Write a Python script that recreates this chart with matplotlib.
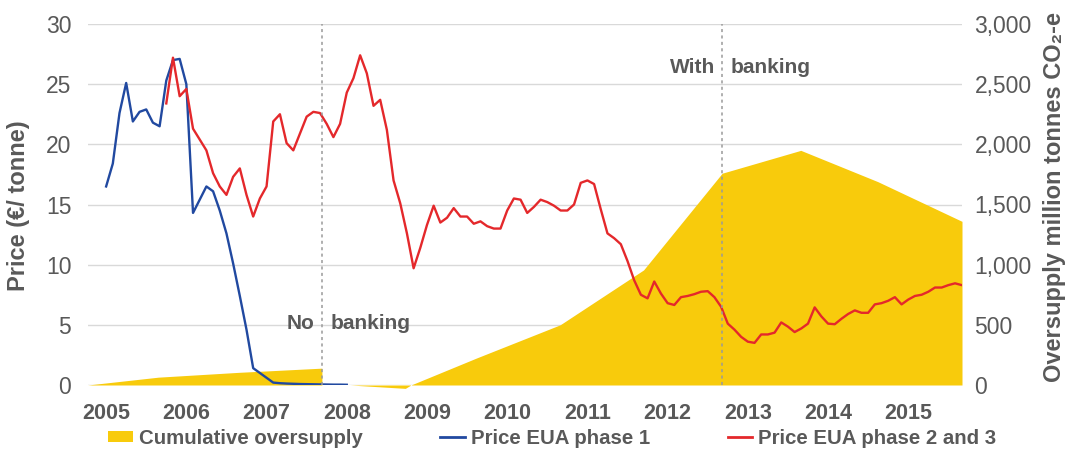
import matplotlib
matplotlib.use("Agg")
import matplotlib.pyplot as plt
from matplotlib.patches import Patch
from matplotlib.lines import Line2D
from matplotlib.ticker import FuncFormatter

plt.rcParams['font.family'] = ['Liberation Sans', 'DejaVu Sans']

# Monthly EUA prices, EUR per tonne
phase1_first_month = (2005, 1)
phase1_price = [16.5, 18.4, 22.6, 25.1, 21.9, 22.7, 22.9, 21.8, 21.5, 25.3, 27.0, 27.1,
                25.0, 14.3, 15.4, 16.5, 16.1, 14.5, 12.6, 10.1, 7.4, 4.6, 1.4, 1.0,
                0.6, 0.2, 0.15, 0.12, 0.1, 0.08, 0.07, 0.06, 0.05, 0.04, 0.03, 0.03, 0.02]

phase23_first_month = (2005, 10)
phase23_price = [23.4, 27.2, 24.0, 24.6, 21.3, 20.4, 19.5, 17.6, 16.5, 15.8, 17.3, 18.0,
                 15.8, 14.0, 15.5, 16.5, 21.9, 22.5, 20.1, 19.5, 20.9, 22.3, 22.7, 22.6,
                 21.7, 20.6, 21.7, 24.3, 25.5, 27.4, 25.9, 23.2, 23.7, 21.2, 17.0, 15.1,
                 12.6, 9.7, 11.4, 13.3, 14.9, 13.5, 13.9, 14.7, 14.0, 14.0, 13.4, 13.6,
                 13.2, 13.0, 13.0, 14.5, 15.5, 15.4, 14.3, 14.8, 15.4, 15.2, 14.9, 14.5,
                 14.5, 15.0, 16.8, 17.0, 16.7, 14.6, 12.6, 12.2, 11.7, 10.3, 8.7, 7.5,
                 7.2, 8.6, 7.6, 6.8, 6.65, 7.3, 7.4, 7.55, 7.75, 7.8, 7.3, 6.5,
                 5.1, 4.6, 4.0, 3.6, 3.5, 4.2, 4.2, 4.35, 5.2, 4.85, 4.4, 4.7,
                 5.1, 6.45, 5.7, 5.1, 5.05, 5.5, 5.9, 6.2, 6.0, 6.0, 6.7, 6.8,
                 7.0, 7.3, 6.7, 7.1, 7.4, 7.5, 7.75, 8.1, 8.1, 8.3, 8.45, 8.3]

# Cumulative oversupply, million tonnes CO2-e
oversupply_time = [2004.77, 2005.65, 2006.65, 2007.69, 2007.69, 2008.04, 2008.73, 2008.80,
                   2009.62, 2010.66, 2011.70, 2012.68, 2013.66, 2014.62, 2015.67]
oversupply_mt = [0, 65, 105, 140, 0, 0, -28, 0,
                 225, 500, 956, 1760, 1950, 1690, 1360]

year_ticks = list(range(2005, 2016))
banking_breaks = [2007.69, 2012.68]

YELLOW = '#F8CB0C'
BLUE = '#2149A0'
RED = '#E4282B'
GREY_TXT = '#595959'
GRID = '#D9D9D9'


def monthly_axis(first, n):
    y, m = first
    return [y + (m - 1 + k) / 12.0 for k in range(n)]


t1 = monthly_axis(phase1_first_month, len(phase1_price))
t23 = monthly_axis(phase23_first_month, len(phase23_price))

fig = plt.figure(figsize=(10.71, 4.54), dpi=100)
ax = fig.add_axes([88 / 1071, 1 - 385 / 454, 874 / 1071, 361 / 454])
ax2 = ax.twinx()
ax.set_zorder(ax2.get_zorder() + 1)
ax.patch.set_visible(False)

# oversupply area on the right-hand scale, beneath the price lines
ax2.fill_between(oversupply_time, oversupply_mt, 0, color=YELLOW, lw=0, zorder=2,
                 clip_on=False)
ax2.set_ylim(0, 3000)
ax2.set_yticks(range(0, 3001, 500))
ax2.yaxis.set_major_formatter(FuncFormatter(lambda v, p: f'{v:,.0f}'))
ax2.yaxis.grid(True, color=GRID, lw=1)
ax2.set_axisbelow(True)

ax.plot(t1, phase1_price, color=BLUE, lw=1.7, solid_joinstyle='round')
ax.plot(t23, phase23_price, color=RED, lw=1.7, solid_joinstyle='round')
for xb in banking_breaks:
    ax.axvline(xb, color='#9A9A9A', lw=1.1, ls=(0, (2, 2.2)), zorder=5)

ax.set_xlim(2004.774, 2015.67)
ax.set_ylim(0, 30)
ax.set_yticks(range(0, 31, 5))
ax.set_xticks(year_ticks)
ax.set_xticklabels([str(y) for y in year_ticks], fontweight='bold', fontsize=15.5, color=GREY_TXT)

for a in (ax, ax2):
    for s in a.spines.values():
        s.set_visible(False)
ax.tick_params(axis='y', length=0, labelsize=16.5, labelcolor=GREY_TXT, pad=12)
ax2.tick_params(axis='y', length=0, labelsize=16.5, labelcolor=GREY_TXT, pad=9)
ax.tick_params(axis='x', length=0, pad=13)

ax.set_ylabel('Price (€/ tonne)', fontsize=17, fontweight='bold', color=GREY_TXT, va='center')
ax.yaxis.set_label_coords(-0.080, 0.496)
ax2.set_ylabel('Oversupply million tonnes CO\u2082-e', fontsize=17, fontweight='bold',
               color=GREY_TXT, va='center', rotation=90)
ax2.yaxis.set_label_coords(1.1064, 0.52)

txt = dict(fontsize=15, fontweight='bold', color=GREY_TXT, va='center', textcoords='offset points')
ax.annotate('No', xy=(banking_breaks[0], 5.1), xytext=(-5, 0), ha='right', **txt)
ax.annotate('banking', xy=(banking_breaks[0], 5.1), xytext=(6, 0), ha='left', **txt)
ax.annotate('With', xy=(banking_breaks[1], 26.4), xytext=(-5, 0), ha='right', **txt)
ax.annotate('banking', xy=(banking_breaks[1], 26.4), xytext=(6, 0), ha='left', **txt)

handles = [Patch(facecolor=YELLOW, edgecolor='none'),
           Line2D([], [], color=BLUE, lw=2),
           Line2D([], [], color=RED, lw=2)]
labels = ['Cumulative oversupply', 'Price EUA phase 1', 'Price EUA phase 2 and 3']
fig.legend(handles, labels, loc='center left', bbox_to_anchor=(108 / 1071, 1 - 438 / 454),
           ncol=3, frameon=False, prop={'size': 14.7, 'weight': 'bold'}, labelcolor=GREY_TXT,
           handlelength=1.2, handleheight=0.45, handletextpad=0.3, columnspacing=3.8,
           borderaxespad=0, borderpad=0)

fig.savefig('out.png', dpi=100)
